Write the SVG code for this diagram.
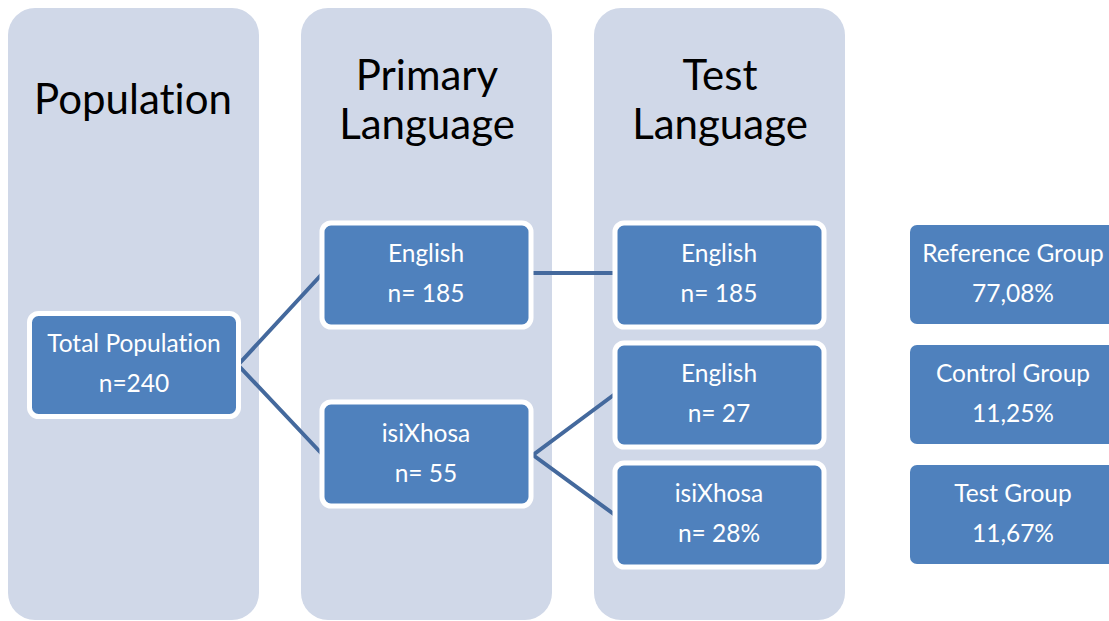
<svg xmlns="http://www.w3.org/2000/svg" width="1109" height="621" viewBox="0 0 1109 621">
  <style>
    .col { fill: #d0d8e8; }
    .head { font-family: Lato, "Liberation Sans", sans-serif; font-size: 42px; fill: #000; text-anchor: middle; font-variant-ligatures: none; }
    .node { fill: #4f81bd; stroke: #ffffff; stroke-width: 5; }
    .plain { fill: #4f81bd; }
    .label { font-family: Lato, "Liberation Sans", sans-serif; font-size: 24.5px; fill: #ffffff; text-anchor: middle; font-variant-ligatures: none; }
    .link { stroke: #44699d; stroke-width: 4; fill: none; }
  </style>

  <!-- column panels -->
  <g id="col-population">
    <path class="col" d="M8,35 a27,27 0 0 1 27,-27 h197 a27,27 0 0 1 27,27 v558 a27,27 0 0 1 -27,27 h-197 a27,27 0 0 1 -27,-27 z"/>
    <text class="head" x="133" y="114">Population</text>
  </g>
  <g id="col-primary">
    <path class="col" d="M301,35 a27,27 0 0 1 27,-27 h197 a27,27 0 0 1 27,27 v558 a27,27 0 0 1 -27,27 h-197 a27,27 0 0 1 -27,-27 z"/>
    <text class="head" x="427" y="90">Primary</text>
    <text class="head" x="427" y="139">Language</text>
  </g>
  <g id="col-test">
    <path class="col" d="M594,35 a27,27 0 0 1 27,-27 h197 a27,27 0 0 1 27,27 v558 a27,27 0 0 1 -27,27 h-197 a27,27 0 0 1 -27,-27 z"/>
    <text class="head" x="720" y="90">Test</text>
    <text class="head" x="720" y="139">Language</text>
  </g>

  <!-- connectors -->
  <g id="connectors">
    <polyline class="link" points="322,274 238,365 322,454"/>
    <line class="link" x1="532" y1="273" x2="615" y2="273"/>
    <polyline class="link" points="615,394 533,455 615,515"/>
  </g>

  <g id="total">
    <rect class="node" x="29.5" y="313.5" width="209" height="103" rx="9"/>
    <text class="label" x="134" y="352">Total Population</text>
    <text class="label" x="134" y="392">n=240</text>
  </g>
  <g id="primary-english">
    <rect class="node" x="322" y="223" width="209" height="104" rx="9"/>
    <text class="label" x="426" y="262">English</text>
    <text class="label" x="426" y="302">n= 185</text>
  </g>
  <g id="primary-xhosa">
    <rect class="node" x="322" y="402" width="209" height="104" rx="9"/>
    <text class="label" x="426" y="442">isiXhosa</text>
    <text class="label" x="426" y="482">n= 55</text>
  </g>
  <g id="test-english-185">
    <rect class="node" x="615" y="223" width="209" height="104" rx="9"/>
    <text class="label" x="719" y="262">English</text>
    <text class="label" x="719" y="302">n= 185</text>
  </g>
  <g id="test-english-27">
    <rect class="node" x="615" y="343" width="209" height="104" rx="9"/>
    <text class="label" x="719" y="382">English</text>
    <text class="label" x="719" y="422">n= 27</text>
  </g>
  <g id="test-xhosa">
    <rect class="node" x="615" y="463" width="209" height="104" rx="9"/>
    <text class="label" x="719" y="502">isiXhosa</text>
    <text class="label" x="719" y="542">n= 28%</text>
  </g>

  <g id="reference-group">
    <rect class="plain" x="910" y="225" width="215" height="99" rx="7"/>
    <text class="label" x="1013" y="262">Reference Group</text>
    <text class="label" x="1013" y="302">77,08%</text>
  </g>
  <g id="control-group">
    <rect class="plain" x="910" y="345" width="215" height="99" rx="7"/>
    <text class="label" x="1013" y="382">Control Group</text>
    <text class="label" x="1013" y="422">11,25%</text>
  </g>
  <g id="test-group">
    <rect class="plain" x="910" y="465" width="215" height="99" rx="7"/>
    <text class="label" x="1013" y="502">Test Group</text>
    <text class="label" x="1013" y="542">11,67%</text>
  </g>
</svg>
